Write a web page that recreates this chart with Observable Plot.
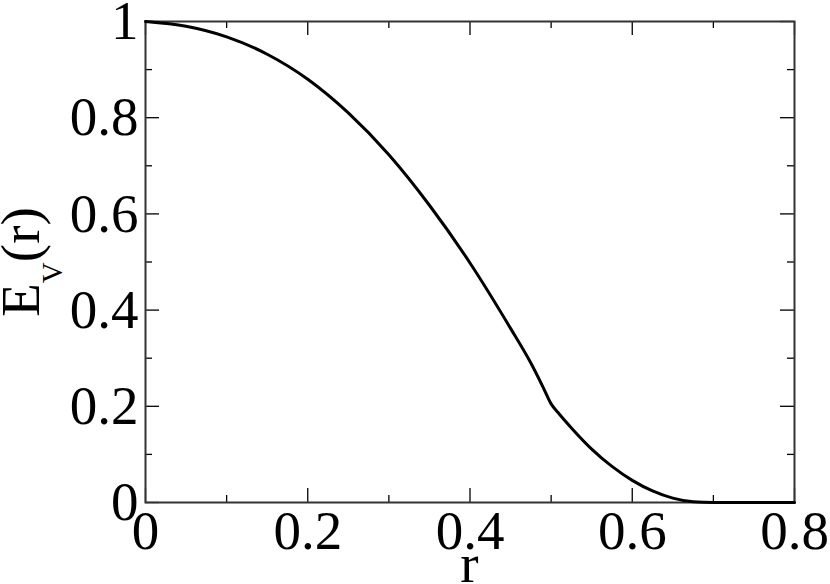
<!DOCTYPE html>
<html>
<head>
<meta charset="utf-8">
<script src="https://cdn.jsdelivr.net/npm/d3@7"></script>
<script src="https://cdn.jsdelivr.net/npm/@observablehq/plot@0.6"></script>
<style>
  html, body { margin: 0; padding: 0; background: white; }
</style>
</head>
<body>
<div id="chart"></div>
<script>
const rValues = [0, 0.05, 0.1, 0.15, 0.2, 0.25, 0.3, 0.35, 0.4, 0.45, 0.475, 0.49, 0.5, 0.51, 0.525, 0.55, 0.575, 0.6, 0.625, 0.65, 0.675, 0.7, 0.75, 0.8];
const eValues = [1, 0.990, 0.968, 0.932, 0.880, 0.810, 0.723, 0.618, 0.498, 0.362, 0.290, 0.240, 0.205, 0.184, 0.155, 0.111, 0.075, 0.046, 0.024, 0.009, 0.0015, 0, 0, 0];

const xMajor = [0, 0.2, 0.4, 0.6, 0.8];
const xMajorLabels = ["0", "0.2", "0.4", "0.6", "0.8"];
const xMinor = [0.1, 0.3, 0.5, 0.7];
const yMajor = [0, 0.2, 0.4, 0.6, 0.8, 1];
const yMajorLabels = ["0", "0.2", "0.4", "0.6", "0.8", "1"];
const yMinor = [0.1, 0.3, 0.5, 0.7, 0.9];

const data = rValues.map((r, i) => ({r, E: eValues[i]}));

const W = 830, H = 584, mL = 145, mR = 36, mT = 21, mB = 82;
const plotW = W - mL - mR, plotH = H - mT - mB;
const majorLen = 14, minorLen = 7;
const font = "'Liberation Serif', 'Times New Roman', serif";

const chart = Plot.plot({
  width: W, height: H,
  marginLeft: mL, marginRight: mR, marginTop: mT, marginBottom: mB,
  x: {domain: [0, 0.8]},
  y: {domain: [0, 1]},
  style: {fontFamily: font, fontSize: "55px", background: "white", color: "black"},
  marks: [
    Plot.axisX({ticks: xMajor, tickSize: 0, tickPadding: 7, tickFormat: (d, i) => xMajorLabels[i], label: null, fontSize: 55}),
    Plot.axisY({ticks: yMajor, tickSize: 0, tickPadding: 7, tickFormat: (d, i) => yMajorLabels[i], label: null, fontSize: 55}),
    // inward ticks, bottom & top
    Plot.tickX(xMajor, {x: d => d, insetTop: plotH - majorLen, stroke: "black", strokeWidth: 1.3}),
    Plot.tickX(xMajor, {x: d => d, insetBottom: plotH - majorLen, stroke: "black", strokeWidth: 1.3}),
    Plot.tickX(xMinor, {x: d => d, insetTop: plotH - minorLen, stroke: "black", strokeWidth: 1.3}),
    Plot.tickX(xMinor, {x: d => d, insetBottom: plotH - minorLen, stroke: "black", strokeWidth: 1.3}),
    // inward ticks, left & right
    Plot.tickY(yMajor, {y: d => d, insetRight: plotW - majorLen, stroke: "black", strokeWidth: 1.3}),
    Plot.tickY(yMajor, {y: d => d, insetLeft: plotW - majorLen, stroke: "black", strokeWidth: 1.3}),
    Plot.tickY(yMinor, {y: d => d, insetRight: plotW - minorLen, stroke: "black", strokeWidth: 1.3}),
    Plot.tickY(yMinor, {y: d => d, insetLeft: plotW - minorLen, stroke: "black", strokeWidth: 1.3}),
    Plot.frame({stroke: "#333", strokeWidth: 2}),
    Plot.line(data, {x: "r", y: "E", stroke: "black", strokeWidth: 3, curve: "monotone-x"})
  ]
});

document.getElementById("chart").appendChild(chart);

const svg = d3.select(chart);
// y-axis label E_V(r)
const yl = svg.append("text")
  .attr("transform", "translate(39,262) rotate(-90)")
  .attr("text-anchor", "middle")
  .attr("fill", "black")
  .style("font-family", font)
  .style("font-size", "55px");
yl.append("tspan").text("E");
yl.append("tspan").attr("dy", 23).style("font-size", "29px").text("V");
yl.append("tspan").attr("dy", -23).text("(r)");
// x-axis label r
svg.append("text")
  .attr("x", mL + plotW / 2)
  .attr("y", 582)
  .attr("text-anchor", "middle")
  .attr("fill", "black")
  .style("font-family", font)
  .style("font-size", "55px")
  .text("r");
</script>
</body>
</html>
